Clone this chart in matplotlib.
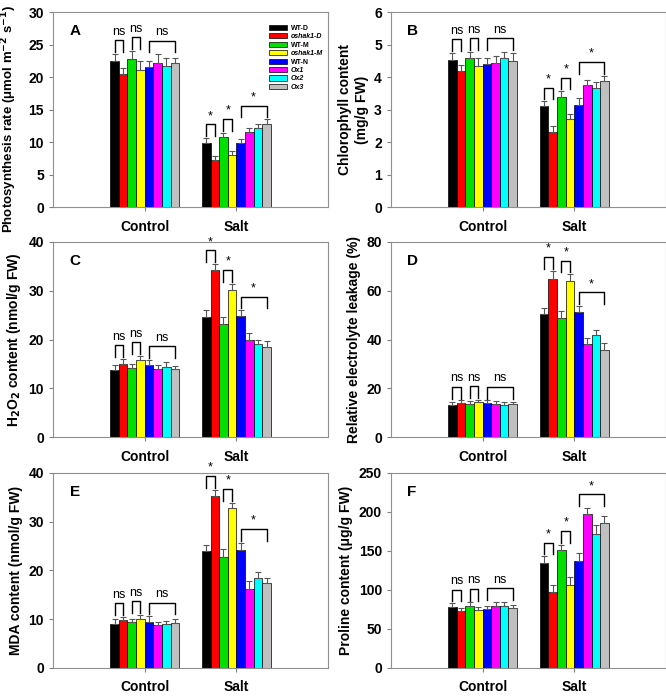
import numpy as np
import matplotlib.pyplot as plt
from matplotlib.patches import Patch

plt.rcParams['font.family'] = ['Liberation Sans', 'DejaVu Sans']

genotypes = ['WT-D', 'oshak1-D', 'WT-M', 'oshak1-M', 'WT-N', 'Ox1', 'Ox2', 'Ox3']
italic_labels = ['oshak1-D', 'oshak1-M', 'Ox1', 'Ox2', 'Ox3']
colors = ['#000000', '#ff0000', '#00e000', '#ffff00', '#0000ff', '#ff00ff', '#00ffff', '#c0c0c0']
groups = ['Control', 'Salt']

# panel A - photosynthesis rate
photo_ctrl = [22.4, 20.4, 22.8, 21.1, 21.5, 22.2, 21.7, 22.1]
photo_ctrl_err = [1.2, 1.0, 1.2, 1.4, 0.9, 1.3, 1.2, 0.9]
photo_salt = [9.9, 7.2, 10.7, 8.0, 9.8, 11.6, 12.2, 12.7]
photo_salt_err = [0.7, 0.7, 0.7, 0.6, 0.7, 0.6, 0.6, 0.8]

# panel B - chlorophyll
chl_ctrl = [4.52, 4.18, 4.60, 4.35, 4.40, 4.44, 4.57, 4.49]
chl_ctrl_err = [0.22, 0.18, 0.17, 0.22, 0.20, 0.20, 0.20, 0.24]
chl_salt = [3.10, 2.30, 3.40, 2.70, 3.13, 3.75, 3.65, 3.88]
chl_salt_err = [0.15, 0.18, 0.16, 0.17, 0.22, 0.16, 0.20, 0.16]

# panel C - H2O2
h2o2_ctrl = [13.8, 14.9, 14.2, 15.7, 14.7, 14.0, 14.4, 13.9]
h2o2_ctrl_err = [1.0, 1.2, 0.7, 1.0, 1.1, 0.8, 1.0, 0.7]
h2o2_salt = [24.6, 34.3, 23.1, 30.2, 24.9, 19.9, 19.1, 18.5]
h2o2_salt_err = [1.4, 1.2, 1.6, 1.2, 1.1, 1.4, 0.8, 1.1]

# panel D - electrolyte leakage
rel_ctrl = [13.2, 14.0, 13.7, 14.2, 13.8, 13.4, 13.0, 13.5]
rel_ctrl_err = [1.2, 1.0, 1.0, 1.1, 1.2, 1.3, 1.2, 1.0]
rel_salt = [50.5, 64.7, 49.0, 63.9, 51.2, 38.2, 41.7, 35.6]
rel_salt_err = [2.5, 3.6, 2.7, 2.9, 2.5, 2.3, 2.1, 3.0]

# panel E - MDA
mda_ctrl = [9.1, 9.9, 9.4, 10.1, 9.5, 8.9, 9.1, 9.2]
mda_ctrl_err = [1.0, 0.6, 0.6, 0.8, 1.1, 0.6, 0.5, 0.8]
mda_salt = [23.9, 35.2, 22.8, 32.8, 24.3, 16.1, 18.4, 17.5]
mda_salt_err = [1.3, 1.4, 1.6, 1.1, 1.4, 1.7, 1.3, 0.9]

# panel F - proline
pro_ctrl = [78, 73, 80, 74, 76, 80, 79, 77]
pro_ctrl_err = [5, 4, 4, 4, 4, 5, 5, 4]
pro_salt = [135, 97, 151, 106, 137, 197, 172, 186]
pro_salt_err = [8, 10, 7, 10, 10, 8, 11, 9]

ylabels = ['Photosynthesis rate (\u03bcmol m$^{\\mathbf{-2}}$ s$^{\\mathbf{-1}}$)',
           'Chlorophyll content\n(mg/g FW)',
           'H$_\\mathbf{2}$O$_\\mathbf{2}$ content (nmol/g FW)',
           'Relative electrolyte leakage (%)',
           'MDA content (nmol/g FW)',
           'Proline content (\u03bcg/g FW)']
ymaxes = [30, 6, 40, 80, 40, 250]
ysteps = [5, 1, 10, 20, 10, 50]
letters = ['A', 'B', 'C', 'D', 'E', 'F']
ctrl_sig = ['ns', 'ns', 'ns', 'ns', 'ns', 'ns']
salt_sig = ['*', '*', '*', '*', '*', '*']

panels = [
    (photo_ctrl, photo_ctrl_err, photo_salt, photo_salt_err),
    (chl_ctrl, chl_ctrl_err, chl_salt, chl_salt_err),
    (h2o2_ctrl, h2o2_ctrl_err, h2o2_salt, h2o2_salt_err),
    (rel_ctrl, rel_ctrl_err, rel_salt, rel_salt_err),
    (mda_ctrl, mda_ctrl_err, mda_salt, mda_salt_err),
    (pro_ctrl, pro_ctrl_err, pro_salt, pro_salt_err),
]

# bracket pairs: (first bar, last bar)
pairs = [(0, 1), (2, 3), (4, 7)]

fig = plt.figure(figsize=(6.66, 6.98), dpi=100)
lefts = [0.0796, 0.587]
bottoms = [0.7034, 0.3739, 0.043]
w, h = 0.413, 0.2794

bw = 0.094
offs = (np.arange(8) - 3.5) * bw
gpos = [1, 2]


def bracket(ax, x0, x1, top, leg, label):
    ax.plot([x0, x0, x1, x1], [top - leg, top, top, top - leg], color='black', lw=1.0)
    ax.text((x0 + x1) / 2, top + leg * 0.2, label, ha='center', va='bottom', fontsize=9)


for k in range(6):
    ax = fig.add_axes([lefts[k % 2], bottoms[k // 2], w, h])
    ctrl, ctrl_err, salt, salt_err = panels[k]
    ymax = ymaxes[k]
    for gi, (vals, errs) in enumerate([(ctrl, ctrl_err), (salt, salt_err)]):
        xs = gpos[gi] + offs
        ax.bar(xs, vals, bw, color=colors, edgecolor='black', linewidth=0.5, zorder=2)
        ax.errorbar(xs, vals, yerr=[np.zeros(8), errs], fmt='none', ecolor='#555555',
                    elinewidth=0.8, capsize=2, capthick=0.8, zorder=3)
        sig = ctrl_sig[k] if gi == 0 else salt_sig[k]
        tops = np.array(vals) + np.array(errs)
        for a, b in pairs:
            top = tops[a:b + 1].max() + 0.07 * ymax
            bracket(ax, xs[a], xs[b], top, 0.06 * ymax, sig)

    ax.set_xlim(0, 3)
    ax.set_ylim(0, ymax)
    ax.set_yticks(np.arange(0, ymax + 0.1, ysteps[k]))
    ax.set_xticks(gpos)
    ax.set_xticklabels(groups, fontweight='bold', fontsize=10)
    ax.tick_params(axis='x', length=3, pad=6, color='#808080')
    ax.tick_params(axis='y', length=3, color='#808080', labelsize=10)
    for t in ax.get_yticklabels():
        t.set_fontweight('bold')
    for s in ax.spines.values():
        s.set_color('#909090')
        s.set_linewidth(0.8)
    ax.set_ylabel(ylabels[k], fontweight='bold', fontsize=9.5 if k == 0 else 10)
    if k == 0:
        ax.yaxis.set_label_coords(-0.125, 0.45)
    ax.text(0.06, 0.94, letters[k], transform=ax.transAxes, fontsize=11,
            fontweight='bold', ha='left', va='top')

    if k == 0:
        handles = [Patch(facecolor=c, edgecolor='black', linewidth=0.5) for c in colors]
        leg = ax.legend(handles, genotypes, loc='upper right', bbox_to_anchor=(1.0, 0.96),
                        frameon=False, prop={'weight': 'bold', 'size': 5},
                        handlelength=2.6, handleheight=0.8, labelspacing=0.2,
                        handletextpad=0.5, borderpad=0.2)
        for t in leg.get_texts():
            if t.get_text() in italic_labels:
                t.set_fontstyle('italic')

fig.savefig('out.png', dpi=100)
